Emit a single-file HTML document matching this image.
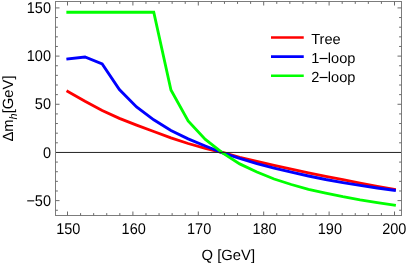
<!DOCTYPE html><html><head><meta charset="utf-8"><style>html,body{margin:0;padding:0;background:#fff}svg{display:block;will-change:transform}text{text-rendering:geometricPrecision;font-family:"Liberation Sans",sans-serif;fill:#000}</style></head><body>
<svg width="407" height="264" viewBox="0 0 407 264">
<rect width="407" height="264" fill="#fff"/>
<g fill="none" stroke-linejoin="miter" stroke-linecap="square" stroke-width="2.85">
<path d="M67.80,91.40 L84.99,101.30 L102.18,110.50 L119.38,118.40 L136.57,125.10 L153.76,131.50 L170.95,137.80 L188.14,143.50 L205.34,148.30 L222.53,152.50 L239.72,157.30 L256.91,161.50 L274.11,165.40 L291.30,169.20 L308.49,172.80 L325.68,176.30 L342.87,179.70 L360.07,183.10 L377.26,186.30 L394.45,189.30" stroke="#ff0000"/>
<path d="M67.80,59.00 L84.99,57.00 L102.18,64.00 L119.38,89.50 L136.57,107.00 L153.76,119.80 L170.95,130.50 L188.14,138.90 L205.34,146.00 L222.53,152.80 L239.72,158.40 L256.91,163.60 L274.11,168.10 L291.30,172.20 L308.49,176.00 L325.68,179.50 L342.87,182.60 L360.07,185.40 L377.26,188.00 L394.45,190.30" stroke="#0000ff"/>
<path d="M67.80,12.25 L84.99,12.25 L102.18,12.25 L119.38,12.25 L136.57,12.25 L153.76,12.25 L170.95,90.00 L188.14,121.00 L205.34,139.40 L222.53,152.90 L239.72,163.90 L256.91,172.00 L274.11,179.00 L291.30,184.50 L308.49,189.30 L325.68,193.10 L342.87,196.70 L360.07,199.90 L377.26,202.70 L394.45,205.20" stroke="#00ff00"/>
</g>
<line x1="55.5" x2="401.5" y1="152.45" y2="152.45" stroke="#222" stroke-width="1"/>
<rect x="55.5" y="1.5" width="346.0" height="214.0" fill="none" stroke="#7c7c7c" stroke-width="1"/>
<path d="M67.50,215.5 v-4 M67.50,1.5 v4 M80.58,215.5 v-2.4 M80.58,1.5 v2.4 M93.66,215.5 v-2.4 M93.66,1.5 v2.4 M106.74,215.5 v-2.4 M106.74,1.5 v2.4 M119.82,215.5 v-2.4 M119.82,1.5 v2.4 M132.90,215.5 v-4 M132.90,1.5 v4 M145.98,215.5 v-2.4 M145.98,1.5 v2.4 M159.06,215.5 v-2.4 M159.06,1.5 v2.4 M172.14,215.5 v-2.4 M172.14,1.5 v2.4 M185.22,215.5 v-2.4 M185.22,1.5 v2.4 M198.30,215.5 v-4 M198.30,1.5 v4 M211.38,215.5 v-2.4 M211.38,1.5 v2.4 M224.46,215.5 v-2.4 M224.46,1.5 v2.4 M237.54,215.5 v-2.4 M237.54,1.5 v2.4 M250.62,215.5 v-2.4 M250.62,1.5 v2.4 M263.70,215.5 v-4 M263.70,1.5 v4 M276.78,215.5 v-2.4 M276.78,1.5 v2.4 M289.86,215.5 v-2.4 M289.86,1.5 v2.4 M302.94,215.5 v-2.4 M302.94,1.5 v2.4 M316.02,215.5 v-2.4 M316.02,1.5 v2.4 M329.10,215.5 v-4 M329.10,1.5 v4 M342.18,215.5 v-2.4 M342.18,1.5 v2.4 M355.26,215.5 v-2.4 M355.26,1.5 v2.4 M368.34,215.5 v-2.4 M368.34,1.5 v2.4 M381.42,215.5 v-2.4 M381.42,1.5 v2.4 M394.50,215.5 v-4 M394.50,1.5 v4 M55.5,210.26 h2.4 M401.5,210.26 h-2.4 M55.5,200.62 h4 M401.5,200.62 h-4 M55.5,190.99 h2.4 M401.5,190.99 h-2.4 M55.5,181.35 h2.4 M401.5,181.35 h-2.4 M55.5,171.72 h2.4 M401.5,171.72 h-2.4 M55.5,162.08 h2.4 M401.5,162.08 h-2.4 M55.5,142.81 h2.4 M401.5,142.81 h-2.4 M55.5,133.18 h2.4 M401.5,133.18 h-2.4 M55.5,123.54 h2.4 M401.5,123.54 h-2.4 M55.5,113.91 h2.4 M401.5,113.91 h-2.4 M55.5,104.27 h4 M401.5,104.27 h-4 M55.5,94.64 h2.4 M401.5,94.64 h-2.4 M55.5,85.00 h2.4 M401.5,85.00 h-2.4 M55.5,75.37 h2.4 M401.5,75.37 h-2.4 M55.5,65.73 h2.4 M401.5,65.73 h-2.4 M55.5,56.10 h4 M401.5,56.10 h-4 M55.5,46.46 h2.4 M401.5,46.46 h-2.4 M55.5,36.83 h2.4 M401.5,36.83 h-2.4 M55.5,27.19 h2.4 M401.5,27.19 h-2.4 M55.5,17.56 h2.4 M401.5,17.56 h-2.4 M55.5,7.92 h4 M401.5,7.92 h-4" stroke="#6a6a6a" stroke-width="1" fill="none"/>
<text transform="translate(68.30,234.4) scale(1,1.07)" font-size="14.5" text-anchor="middle">150</text>
<text transform="translate(133.70,234.4) scale(1,1.07)" font-size="14.5" text-anchor="middle">160</text>
<text transform="translate(199.10,234.4) scale(1,1.07)" font-size="14.5" text-anchor="middle">170</text>
<text transform="translate(264.50,234.4) scale(1,1.07)" font-size="14.5" text-anchor="middle">180</text>
<text transform="translate(329.90,234.4) scale(1,1.07)" font-size="14.5" text-anchor="middle">190</text>
<text transform="translate(394.25,234.4) scale(1,1.07)" font-size="14.5" text-anchor="middle">200</text>
<text transform="translate(51,13.02) scale(1,1.07)" font-size="14.5" text-anchor="end">150</text>
<text transform="translate(51,61.20) scale(1,1.07)" font-size="14.5" text-anchor="end">100</text>
<text transform="translate(51,109.37) scale(1,1.07)" font-size="14.5" text-anchor="end">50</text>
<text transform="translate(51,157.55) scale(1,1.07)" font-size="14.5" text-anchor="end">0</text>
<text transform="translate(51,205.72) scale(1,1.07)" font-size="14.5" text-anchor="end">−50</text>
<text x="228.3" y="260.3" font-size="14.8" text-anchor="middle">Q [GeV]</text>
<text transform="translate(13.4,108.5) rotate(-90)" font-size="14.8" text-anchor="middle">Δm<tspan font-size="11" dy="3.5" font-style="italic">h</tspan><tspan dy="-3.5">[GeV]</tspan></text>
<line x1="271" x2="303.75" y1="37.45" y2="37.45" stroke="#ff0000" stroke-width="2.6"/>
<text x="311.2" y="43.75" font-size="14.6">Tree</text>
<line x1="271" x2="303.75" y1="56.6" y2="56.6" stroke="#0000ff" stroke-width="2.6"/>
<text x="311.2" y="62.90" font-size="14.6">1<tspan font-size="16.5" dx="-0.55" dy="1.1">−</tspan><tspan dx="-0.55" dy="-1.1">loop</tspan></text>
<line x1="271" x2="303.75" y1="75.75" y2="75.75" stroke="#00ff00" stroke-width="2.6"/>
<text x="311.2" y="82.05" font-size="14.6">2<tspan font-size="16.5" dx="-0.55" dy="1.1">−</tspan><tspan dx="-0.55" dy="-1.1">loop</tspan></text>
</svg></body></html>
